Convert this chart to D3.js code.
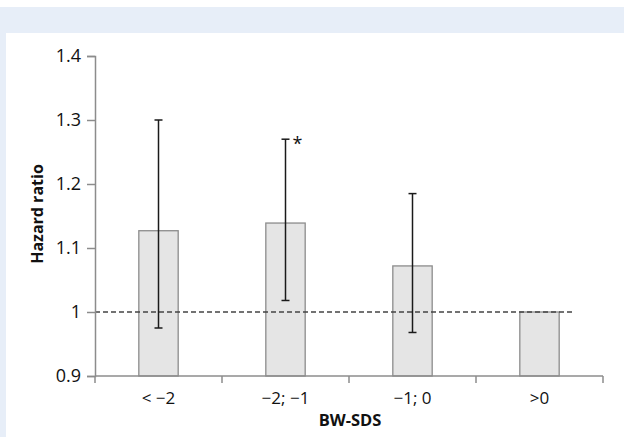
<!DOCTYPE html>
<html>
<head>
<meta charset="utf-8">
<script src="https://cdn.jsdelivr.net/npm/d3@7"></script>
<style>
body { margin: 0; background: #fff; }
svg { display: block; }
text { font-family: "Open Sans", sans-serif; fill: #111; }
</style>
</head>
<body>
<div id="chart"></div>
<script>
var WIDTH = 624;
var HEIGHT = 437;
var MARGIN = { top: 56, left: 95, right: 21, bottom: 61 };

var categories = ["< \u22122", "\u22122; \u22121", "\u22121; 0", ">0"];
var hazard = [1.127, 1.139, 1.072, 1.0];
var lower = [0.975, 1.018, 0.968, null];
var upper = [1.300, 1.270, 1.185, null];
var marks = ["", "*", "", ""];
var yTicks = [0.9, 1, 1.1, 1.2, 1.3, 1.4];

var svg = d3.select("#chart").append("svg")
    .attr("width", WIDTH)
    .attr("height", HEIGHT);

// page frame: blue band on top and a strip on the left
svg.append("rect").attr("x", 0).attr("y", 7).attr("width", WIDTH).attr("height", 26).attr("fill", "#e7eef8");
svg.append("rect").attr("x", 0).attr("y", 7).attr("width", 6).attr("height", HEIGHT - 7).attr("fill", "#e7eef8");

var x = d3.scaleBand()
    .domain(categories)
    .range([MARGIN.left, WIDTH - MARGIN.right])
    .paddingInner(0.69)
    .paddingOuter(0.345);

var y = d3.scaleLinear()
    .domain([0.9, 1.4])
    .range([HEIGHT - MARGIN.bottom, MARGIN.top]);

var step = x.step();
var x0 = MARGIN.left;

// bars
svg.selectAll("rect.bar")
    .data(hazard)
    .enter().append("rect")
    .attr("class", "bar")
    .attr("x", function (d, i) { return x(categories[i]); })
    .attr("y", function (d) { return y(d); })
    .attr("width", x.bandwidth())
    .attr("height", function (d) { return y(0.9) - y(d); })
    .attr("fill", "#e5e5e5")
    .attr("stroke", "#8c8c8c")
    .attr("stroke-width", 1.3);

// reference line at HR = 1
svg.append("line")
    .attr("x1", x0).attr("x2", x0 + step * 3.76)
    .attr("y1", y(1)).attr("y2", y(1))
    .attr("stroke", "#444")
    .attr("stroke-width", 1.3)
    .attr("stroke-dasharray", "5,3");

// error bars
for (var i = 0; i < categories.length; i++) {
    if (lower[i] === null) continue;
    var cx = x(categories[i]) + x.bandwidth() / 2;
    var g = svg.append("g").attr("stroke", "#1a1a1a").attr("stroke-width", 1.5);
    g.append("line").attr("x1", cx).attr("x2", cx).attr("y1", y(upper[i])).attr("y2", y(lower[i]));
    g.append("line").attr("x1", cx - 4).attr("x2", cx + 4).attr("y1", y(upper[i])).attr("y2", y(upper[i]));
    g.append("line").attr("x1", cx - 4).attr("x2", cx + 4).attr("y1", y(lower[i])).attr("y2", y(lower[i]));
    if (marks[i]) {
        svg.append("text")
            .attr("x", cx + 7).attr("y", y(upper[i]) + 11)
            .attr("font-size", 18)
            .text(marks[i]);
    }
}

// y axis
var yAxis = svg.append("g")
    .attr("transform", "translate(" + MARGIN.left + ",0)")
    .call(d3.axisLeft(y).tickValues(yTicks).tickSize(8).tickPadding(6)
        .tickFormat(function (d) { return d === 1 ? "1" : d3.format(".1f")(d); }));

// x axis with ticks at category boundaries
var xAxis = svg.append("g")
    .attr("transform", "translate(0," + y(0.9) + ")");
xAxis.append("line")
    .attr("x1", x0).attr("x2", x0 + step * 4)
    .attr("stroke", "#8c8c8c").attr("stroke-width", 1.5);
xAxis.selectAll("line.tick")
    .data(d3.range(categories.length + 1))
    .enter().append("line")
    .attr("class", "tick")
    .attr("x1", function (d) { return x0 + d * step; })
    .attr("x2", function (d) { return x0 + d * step; })
    .attr("y1", 0).attr("y2", 7)
    .attr("stroke", "#8c8c8c").attr("stroke-width", 1.5);
xAxis.selectAll("text")
    .data(categories)
    .enter().append("text")
    .attr("x", function (d) { return x(d) + x.bandwidth() / 2; })
    .attr("y", 28)
    .attr("text-anchor", "middle")
    .attr("font-size", 17)
    .text(function (d) { return d; });

yAxis.select(".domain").attr("stroke", "#8c8c8c").attr("stroke-width", 1.5);
yAxis.selectAll(".tick line").attr("stroke", "#8c8c8c").attr("stroke-width", 1.5);
yAxis.selectAll(".tick text")
    .attr("font-size", 18)
    .attr("font-family", "Open Sans, sans-serif")
    .attr("fill", "#111");

// axis titles
svg.append("text")
    .attr("transform", "translate(43," + 214 + ") rotate(-90)")
    .attr("text-anchor", "middle")
    .attr("font-size", 16)
    .attr("font-weight", "bold")
    .text("Hazard ratio");

svg.append("text")
    .attr("x", 350).attr("y", 426)
    .attr("text-anchor", "middle")
    .attr("font-size", 16.5)
    .attr("font-weight", "bold")
    .text("BW-SDS");
</script>
</body>
</html>
